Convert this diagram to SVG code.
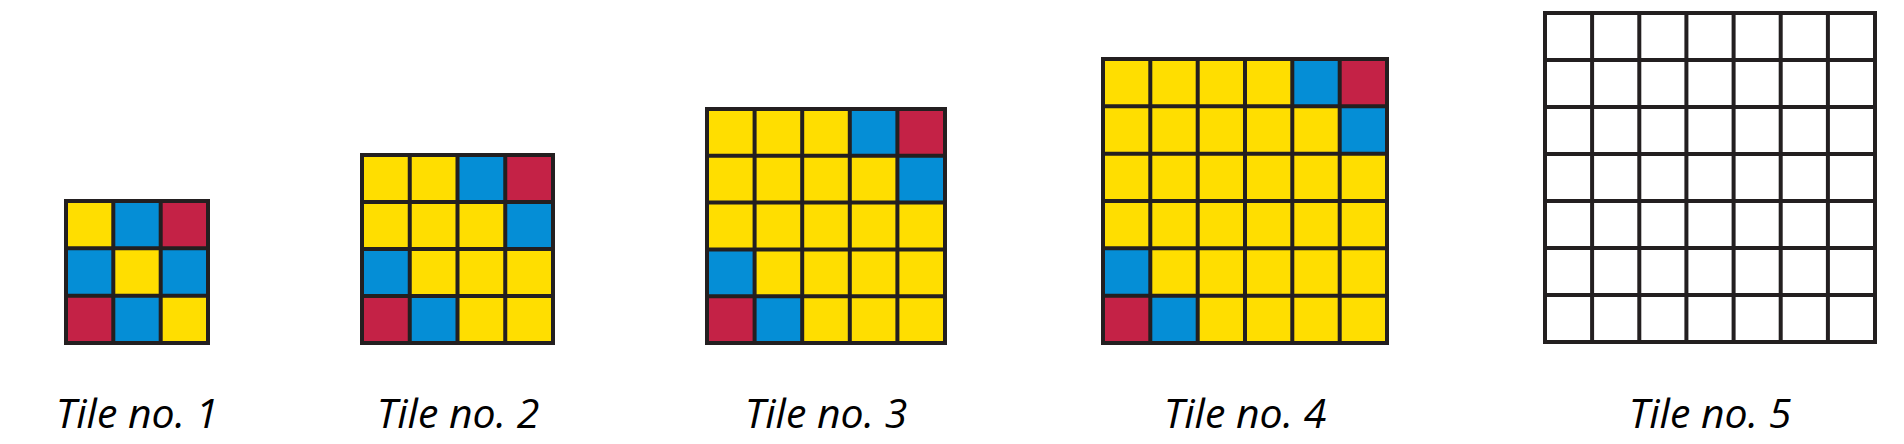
<svg xmlns="http://www.w3.org/2000/svg" width="1904" height="444" viewBox="0 0 1904 444">
<style>
.y{fill:#FFDE00}
.b{fill:#058ED6}
.r{fill:#C42246}
.w{fill:#FFFFFF}
.g{fill:none;stroke:#231F20;stroke-width:4;stroke-linecap:square}
.lbl{font-family:"Open Sans","Noto Sans",sans-serif;font-style:italic;font-size:41px;fill:#000;text-anchor:middle}
</style>
<rect width="1904" height="444" fill="#FFFFFF"/>
<g id="tile1">
<rect class="y" x="66" y="201" width="142" height="142"/>
<rect class="b" x="113.3" y="201" width="47.4" height="47.3"/>
<rect class="r" x="160.7" y="201" width="47.3" height="47.3"/>
<rect class="b" x="66" y="248.3" width="47.3" height="47.4"/>
<rect class="b" x="160.7" y="248.3" width="47.3" height="47.4"/>
<rect class="r" x="66" y="295.7" width="47.3" height="47.3"/>
<rect class="b" x="113.3" y="295.7" width="47.4" height="47.3"/>
<path class="g" d="M66 201H208V343H66Z M113.3 201V343 M160.7 201V343 M66 248.3H208 M66 295.7H208"/>
<text class="lbl" x="137" y="428">Tile no. 1</text>
</g>
<g id="tile2">
<rect class="y" x="362" y="155" width="191" height="188"/>
<rect class="b" x="457.5" y="155" width="47.75" height="47"/>
<rect class="r" x="505.25" y="155" width="47.75" height="47"/>
<rect class="b" x="505.25" y="202" width="47.75" height="47"/>
<rect class="b" x="362" y="249" width="47.75" height="47"/>
<rect class="r" x="362" y="296" width="47.75" height="47"/>
<rect class="b" x="409.75" y="296" width="47.75" height="47"/>
<path class="g" d="M362 155H553V343H362Z M409.75 155V343 M457.5 155V343 M505.25 155V343 M362 202H553 M362 249H553 M362 296H553"/>
<text class="lbl" x="458" y="428">Tile no. 2</text>
</g>
<g id="tile3">
<rect class="y" x="707" y="109" width="238" height="234"/>
<rect class="b" x="849.8" y="109" width="47.6" height="46.8"/>
<rect class="r" x="897.4" y="109" width="47.6" height="46.8"/>
<rect class="b" x="897.4" y="155.8" width="47.6" height="46.8"/>
<rect class="b" x="707" y="249.4" width="47.6" height="46.8"/>
<rect class="r" x="707" y="296.2" width="47.6" height="46.8"/>
<rect class="b" x="754.6" y="296.2" width="47.6" height="46.8"/>
<path class="g" d="M707 109H945V343H707Z M754.6 109V343 M802.2 109V343 M849.8 109V343 M897.4 109V343 M707 155.8H945 M707 202.6H945 M707 249.4H945 M707 296.2H945"/>
<text class="lbl" x="826" y="428">Tile no. 3</text>
</g>
<g id="tile4">
<rect class="y" x="1103" y="59" width="284" height="284"/>
<rect class="b" x="1292.3" y="59" width="47.4" height="47.3"/>
<rect class="r" x="1339.7" y="59" width="47.3" height="47.3"/>
<rect class="b" x="1339.7" y="106.3" width="47.3" height="47.4"/>
<rect class="b" x="1103" y="248.3" width="47.3" height="47.4"/>
<rect class="r" x="1103" y="295.7" width="47.3" height="47.3"/>
<rect class="b" x="1150.3" y="295.7" width="47.4" height="47.3"/>
<path class="g" d="M1103 59H1387V343H1103Z M1150.3 59V343 M1197.7 59V343 M1245 59V343 M1292.3 59V343 M1339.7 59V343 M1103 106.3H1387 M1103 153.7H1387 M1103 201H1387 M1103 248.3H1387 M1103 295.7H1387"/>
<text class="lbl" x="1245" y="428">Tile no. 4</text>
</g>
<g id="tile5">
<rect class="w" x="1545" y="13" width="330" height="329"/>
<path class="g" d="M1545 13H1875V342H1545Z M1592.1 13V342 M1639.3 13V342 M1686.4 13V342 M1733.6 13V342 M1780.7 13V342 M1827.9 13V342 M1545 60H1875 M1545 107H1875 M1545 154H1875 M1545 201H1875 M1545 248H1875 M1545 295H1875"/>
<text class="lbl" x="1710" y="428">Tile no. 5</text>
</g>
</svg>
